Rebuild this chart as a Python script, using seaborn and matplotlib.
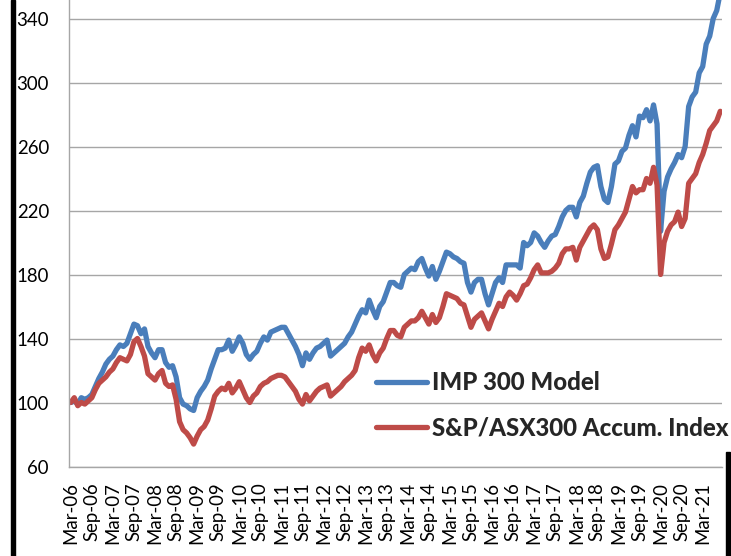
import numpy as np
import pandas as pd
import matplotlib
matplotlib.use("Agg")
import matplotlib.pyplot as plt
import seaborn as sns
from matplotlib.patches import Rectangle

# Monthly data, Mar-06 .. Aug-21 (186 months)
series_names = ["IMP 300 Model", "S&P/ASX300 Accum. Index"]
imp300 = [
    100, 101, 99, 103, 102, 103, 105, 110, 115, 119,
    124, 127, 129, 133, 136, 135, 137, 143, 149, 148,
    143, 146, 135, 131, 128, 133, 133, 125, 122, 123,
    116, 103, 99, 98, 96, 95, 103, 107, 110, 114,
    121, 127, 133, 133, 134, 139, 132, 136, 141, 137,
    130, 127, 130, 132, 137, 141, 139, 144, 145, 146,
    147, 147, 143, 139, 135, 130, 123, 131, 127, 131,
    134, 135, 137, 139, 129, 131, 133, 135, 137, 141,
    144, 149, 154, 158, 156, 164, 158, 153, 160, 163,
    169, 175, 175, 173, 172, 180, 182, 184, 183, 188,
    190, 184, 179, 185, 177, 182, 188, 194, 193, 191,
    190, 188, 187, 175, 169, 175, 177, 177, 168, 161,
    168, 175, 178, 175, 186, 186, 186, 186, 184, 200,
    198, 200, 206, 204, 200, 197, 201, 204, 205, 210,
    216, 220, 222, 222, 216, 225, 229, 237, 244, 247,
    248, 235, 227, 225, 235, 249, 251, 257, 259, 267,
    273, 266, 279, 278, 283, 276, 286, 274, 207, 232,
    241, 246, 250, 255, 253, 260, 285, 291, 294, 306,
    310, 324, 329, 340, 345, 356,
]
asx300 = [
    100, 103, 98, 100, 99, 101, 103, 108, 112, 114,
    116, 119, 121, 125, 128, 127, 126, 130, 138, 140,
    135, 129, 118, 116, 114, 118, 120, 112, 110, 111,
    102, 88, 83, 81, 78, 74, 79, 83, 85, 89,
    96, 104, 107, 109, 108, 112, 106, 109, 113, 108,
    103, 100, 104, 106, 110, 112, 113, 115, 116, 117,
    117, 116, 113, 110, 107, 102, 99, 105, 101, 104,
    107, 109, 110, 111, 104, 106, 108, 110, 113, 115,
    117, 120, 128, 134, 132, 136, 130, 126, 131, 134,
    140, 145, 145, 142, 141, 147, 149, 151, 151, 153,
    157, 153, 149, 155, 150, 153, 160, 168, 167, 166,
    165, 162, 161, 154, 147, 152, 154, 156, 151, 146,
    152, 157, 162, 160, 166, 169, 167, 164, 168, 173,
    174, 178, 183, 186, 181, 181, 181, 182, 184, 187,
    193, 196, 196, 197, 189, 197, 201, 205, 209, 211,
    208, 196, 190, 191, 199, 208, 211, 215, 219, 227,
    235, 231, 233, 233, 240, 237, 247, 236, 180, 200,
    207, 211, 213, 219, 210, 215, 237, 240, 243, 250,
    255, 262, 270, 273, 276, 282,
]
tick_labels = [
    "Mar-06", "Sep-06", "Mar-07", "Sep-07", "Mar-08", "Sep-08", "Mar-09", "Sep-09",
    "Mar-10", "Sep-10", "Mar-11", "Sep-11", "Mar-12", "Sep-12", "Mar-13", "Sep-13",
    "Mar-14", "Sep-14", "Mar-15", "Sep-15", "Mar-16", "Sep-16", "Mar-17", "Sep-17",
    "Mar-18", "Sep-18", "Mar-19", "Sep-19", "Mar-20", "Sep-20", "Mar-21",
]
y_ticks = [60, 100, 140, 180, 220, 260, 300, 340]
colors = ["#4a7ebb", "#be4b48"]

n = len(imp300)
df = pd.concat([
    pd.DataFrame({"month": np.arange(n), "value": imp300, "series": series_names[0]}),
    pd.DataFrame({"month": np.arange(n), "value": asx300, "series": series_names[1]}),
])

sns.set_style("white")
plt.rcParams["font.family"] = ["Lato", "DejaVu Sans"]

W, H = 731, 556
fig = plt.figure(figsize=(W / 100, H / 100), dpi=100)
ax = fig.add_axes([69 / W, (H - 466.5) / H, (722 - 69) / W, 466.5 / H])

sns.lineplot(data=df, x="month", y="value", hue="series", palette=colors,
             linewidth=3.8, ax=ax, legend=False, sort=False)
for ln in ax.get_lines():
    ln.set_solid_joinstyle("round")
    ln.set_solid_capstyle("round")

ax.set_xlim(-0.5, n - 0.5)
ax.set_ylim(60, 60 + 466.5 / 1.6)
ax.set_yticks(y_ticks)
ax.set_xticks(np.arange(0, 6 * len(tick_labels), 6))
ax.set_xticklabels(tick_labels, rotation=90)
ax.set_xlabel("")
ax.set_ylabel("")

grid_c = "#a6a6a6"
ax.yaxis.grid(True, color=grid_c, linewidth=1.0)
ax.xaxis.grid(False)
ax.set_axisbelow(True)
for s in ["top", "right"]:
    ax.spines[s].set_visible(False)
for s in ["left", "bottom"]:
    ax.spines[s].set_color(grid_c)
    ax.spines[s].set_linewidth(1.0)

ax.tick_params(axis="y", length=0, pad=14.4, labelsize=13.4, colors="black")
ax.tick_params(axis="x", length=0, pad=11.2, labelsize=13.4, colors="black")

handles = ax.get_lines()[:2]
leg = fig.legend(handles, series_names, loc="upper left",
                 bbox_to_anchor=(376 / W, 1 - 371.5 / H), bbox_transform=fig.transFigure,
                 frameon=False, borderpad=0, borderaxespad=0,
                 handlelength=2.14, handletextpad=0.2, labelspacing=0.9,
                 prop={"family": ["Lato", "DejaVu Sans"], "weight": "black", "size": 17.3})

# black border bars of the original screenshot
fig.patches.append(Rectangle((11 / W, 0), 4 / W, 1, transform=fig.transFigure,
                             color="black", zorder=5))
fig.patches.append(Rectangle((726 / W, 0), 4 / W, (H - 452) / H, transform=fig.transFigure,
                             color="black", zorder=5))

fig.savefig("out.png", dpi=100)
